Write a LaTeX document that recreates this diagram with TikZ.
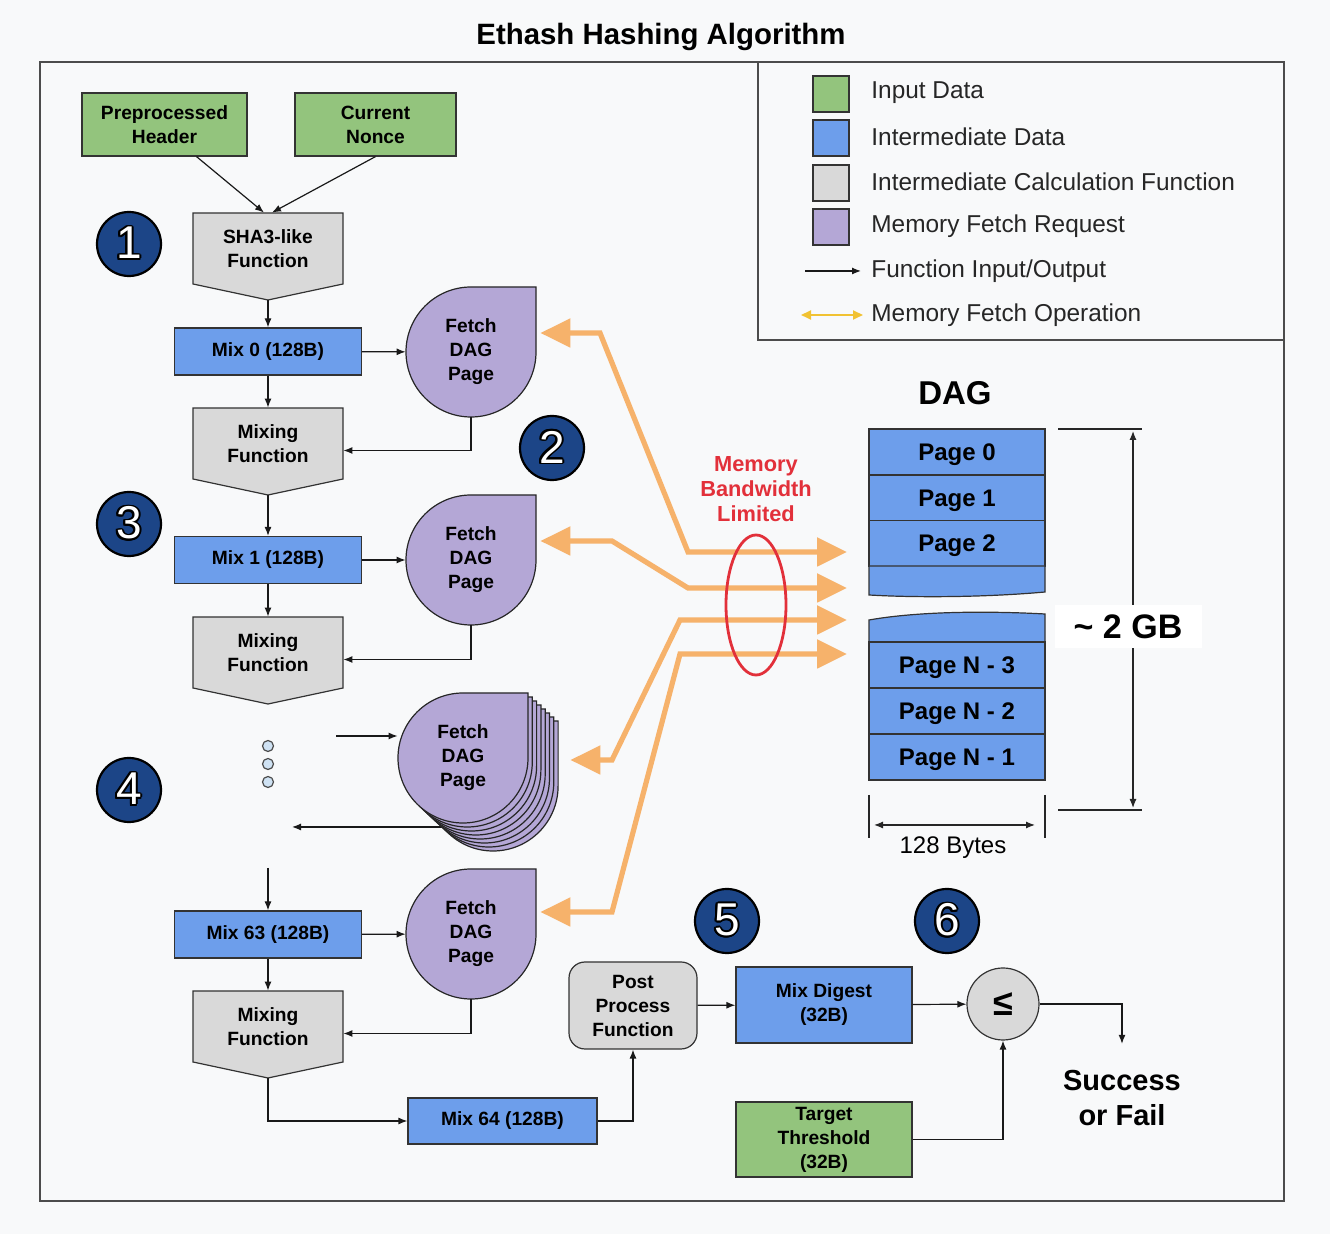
\documentclass[tikz,border=0pt]{standalone}
\usepackage{fontspec}
\setmainfont{Liberation Sans}
\usepackage[copies]{contour}
\contourlength{0.9pt}
\usetikzlibrary{arrows.meta,calc}

\definecolor{bgcol}{HTML}{F8F9FA}
\definecolor{ingreen}{HTML}{93C47D}
\definecolor{midblue}{HTML}{6D9EEB}
\definecolor{fngray}{HTML}{D9D9D9}
\definecolor{fetchpurple}{HTML}{B4A7D6}
\definecolor{memorange}{HTML}{F6B26B}
\definecolor{memyellow}{HTML}{F1C232}
\definecolor{memred}{HTML}{E2303A}
\definecolor{badgeblue}{HTML}{1C4587}
\definecolor{dotblue}{HTML}{CFE2F3}

\newcommand{\boxfont}{\fontsize{9.6}{12}\selectfont\bfseries}
\newcommand{\pagefont}{\fontsize{12}{14}\selectfont\bfseries}

% calculation step: box with a pointed bottom
\newcommand{\fnblock}[3]{%
  \filldraw[fnshape] (#2) ++(-75,-35.5) -- ++(150,0) -- ++(0,71) -- ++(-75,16) coordinate (#1-tip) -- ++(-75,-16) -- cycle;
  \node[fn] (#1) at (#2) {#3};
}
% fetch request: circle with a square top right corner
\newcommand{\fetchblock}[3]{%
  \filldraw[fetchshape] (#2) ++(65,-65) -- ++(0,65) arc[start angle=0, end angle=270, radius=65] -- cycle;
  \node[fetch] (#1) at (#2) {#3};
}

\begin{document}
\begin{tikzpicture}[x=0.5pt, y=-0.5pt,
  box/.style={draw=black!80, line width=0.6pt, align=center, inner sep=0pt, font=\boxfont},
  indata/.style={box, fill=ingreen},
  middata/.style={box, fill=midblue},
  mixbox/.style={middata, minimum width=93.5pt, minimum height=23.5pt},
  fn/.style={align=center, inner sep=0pt, minimum width=75pt, minimum height=35.5pt, font=\boxfont},
  fnshape/.style={draw=black!80, line width=0.6pt, fill=fngray},
  fetch/.style={circle, align=center, inner sep=0pt, minimum size=65pt, font=\boxfont},
  fetchshape/.style={draw=black!85, line width=0.6pt, fill=fetchpurple},
  flow/.style={draw=black!90, line width=0.6pt, -{Latex[length=4.5pt,width=3.5pt]}},
  mem/.style={draw=memorange, line width=2.6pt, {Triangle[length=15pt,width=14pt]}-{Triangle[length=15pt,width=14pt]}},
  badge/.style={circle, draw=black, line width=1.1pt, fill=badgeblue, minimum size=32pt, inner sep=0pt, text=white, font=\fontsize{23}{23}\selectfont},
  pagebox/.style={middata, minimum width=88pt, minimum height=23pt, text depth=0pt, font=\pagefont},
  pageshape/.style={draw=black!80, line width=0.6pt, fill=midblue},
  dimline/.style={draw=black!85, line width=0.6pt},
  legtext/.style={anchor=west, inner sep=0pt, font=\fontsize{12.2}{14}\selectfont, text=black!85},
  legkey/.style={draw=black!80, line width=0.8pt, minimum size=18pt, inner sep=0pt},
  ellip/.style={circle, draw=black!70, line width=0.6pt, fill=dotblue, minimum size=5.5pt, inner sep=0pt},
  framebox/.style={draw=black!70, line width=0.8pt}]

\fill[bgcol] (0,0) rectangle (1330,1234);
\useasboundingbox (0,0) rectangle (1330,1234);

\node[font=\fontsize{14.7}{16}\selectfont\bfseries] (title) at (661,37) {Ethash Hashing Algorithm};
\draw[framebox] (40,62) rectangle (1284,1201);
\draw[framebox] (758,62) rectangle (1284,340);

% legend
\node[legkey, fill=ingreen] (kin) at (831,94) {};
\node[legkey, fill=midblue] (kmid) at (831,138) {};
\node[legkey, fill=fngray] (kfn) at (831,183) {};
\node[legkey, fill=fetchpurple] (kfetch) at (831,227) {};
\node[legtext] (lin) at (871,93) {Input Data};
\node[legtext] (lmid) at (871,137) {Intermediate Data};
\node[legtext] (lfn) at (871,182) {Intermediate Calculation Function};
\node[legtext] (lfetch) at (871,226) {Memory Fetch Request};
\node[legtext] (lio) at (871,271) {Function Input/Output};
\node[legtext] (lmem) at (871,315) {Memory Fetch Operation};
\draw[flow] ([xshift=-33pt]lio.west) -- ([xshift=-5pt]lio.west);
\draw[draw=memyellow, line width=0.9pt, {Triangle[length=5pt,width=4.5pt]}-{Triangle[length=5pt,width=4.5pt]}] ([xshift=-35pt]lmem.west) -- ([xshift=-4pt]lmem.west);

% inputs and first hash
\node[indata, minimum width=82.5pt, minimum height=31.5pt] (hdr) at (164.5,124.5) {Preprocessed\\Header};
\node[indata, minimum width=80.5pt, minimum height=31.5pt] (nonce) at (375.5,124.5) {Current\\Nonce};
\fnblock{sha}{268,248.5}{SHA3-like\\Function}
\draw[flow] ($(hdr.south)+(32,0)$) -- ($(sha.north)+(-4,0)$);
\draw[flow] (nonce.south) -- ($(sha.north)+(4,0)$);

% round 0
\node[mixbox] (mix0) at (268,351.5) {Mix 0 (128B)};
\fetchblock{f1}{471,352}{Fetch\\DAG\\Page}
\fnblock{mx1}{268,443.5}{Mixing\\Function}
\draw[flow] (sha-tip) -- (mix0);
\draw[flow] (mix0) -- (f1);
\draw[flow] (mix0) -- (mx1);
\draw[flow] (f1.south) |- ($(mx1.east)+(0,7)$);

% round 1
\node[mixbox] (mix1) at (268,560) {Mix 1 (128B)};
\fetchblock{f2}{471,560}{Fetch\\DAG\\Page}
\fnblock{mx2}{268,652.5}{Mixing\\Function}
\draw[flow] (mx1-tip) -- (mix1);
\draw[flow] (mix1) -- (f2);
\draw[flow] (mix1) -- (mx2);
\draw[flow] (f2.south) |- ($(mx2.east)+(0,7)$);

% rounds 2 to 62
\foreach \yy [count=\i] in {746,764,782}
  \node[ellip] (dot\i) at (268,\yy) {};
\coordinate (dotsin) at (336,736);
\coordinate (stackout) at (452,827);
\coordinate (dotsout) at (292,827);
\draw[flow] (stackout) -- (dotsout);
\foreach \k in {7,...,1}
  \filldraw[fetchshape, shift={(\k*4.3,\k*4)}] (463,758) ++(65,-65) -- ++(0,65) arc[start angle=0, end angle=270, radius=65] -- cycle;
\fetchblock{f3}{463,758}{Fetch\\DAG\\Page}
\draw[flow] (dotsin) -- ($(f3.west)+(0,-22)$);

% round 63
\coordinate (contin) at (268,868);
\node[mixbox] (mix63) at (268,934.5) {Mix 63 (128B)};
\fetchblock{f4}{471,934}{Fetch\\DAG\\Page}
\fnblock{mx3}{268,1026.5}{Mixing\\Function}
\draw[flow] (contin) -- (mix63);
\draw[flow] (mix63) -- (f4);
\draw[flow] (mix63) -- (mx3);
\draw[flow] (f4.south) |- ($(mx3.east)+(0,7)$);

% result
\node[mixbox, minimum width=94.5pt, minimum height=23pt] (mix64) at (502.5,1121) {Mix 64 (128B)};
\node[box, fill=fngray, rounded corners=8pt, minimum width=64pt, minimum height=43.5pt] (post) at (633,1005.5) {Post\\Process\\Function};
\node[middata, minimum width=88pt, minimum height=38pt] (digest) at (824,1005) {Mix Digest\\(32B)};
\node[circle, draw=black!80, line width=0.6pt, fill=fngray, minimum size=36pt, inner sep=0pt, font=\fontsize{18}{18}\selectfont\bfseries] (le) at (1003,1004) {≤};
\node[indata, minimum width=88pt, minimum height=37.5pt] (target) at (824,1139.5) {Target\\Threshold\\(32B)};
\node[align=center, inner sep=0pt, font=\fontsize{14.5}{17.5}\selectfont\bfseries] (res) at (1122,1098) {Success\\or Fail};
\draw[flow] (mx3-tip) |- (mix64);
\draw[flow] (mix64) -| (post);
\draw[flow] (post) -- (digest);
\draw[flow] (digest) -- (le);
\draw[flow] (target) -| (le);
\draw[flow] (le) -| ([yshift=13pt]res.north);

% DAG
\node[font=\fontsize{16.5}{18}\selectfont\bfseries] (dag) at (955,393) {DAG};
\node[pagebox] (pg0) at (957,452) {Page 0};
\node[pagebox] (pg1) at (957,498) {Page 1};
\node[pagebox] (pg2) at (957,543.5) {Page 2};
\filldraw[pageshape] (869,566) -- (1045,566) -- (1045,592) .. controls (990,597) and (920,598) .. (869,595) -- cycle;
\filldraw[pageshape] (869,642) -- (869,620) .. controls (920,611) and (990,611) .. (1045,614) -- (1045,642) -- cycle;
\node[pagebox] (pgn3) at (957,665) {Page N - 3};
\node[pagebox] (pgn2) at (957,711) {Page N - 2};
\node[pagebox] (pgn1) at (957,757) {Page N - 1};

\draw[dimline] (1058,429) -- (1142,429);
\draw[dimline] (1058,810) -- (1142,810);
\draw[dimline, {Latex[length=4.5pt,width=3.5pt]}-{Latex[length=4.5pt,width=3.5pt]}] (1133,431) -- (1133,808);
\node[fill=white, minimum width=73.5pt, minimum height=21.5pt, font=\fontsize{17}{18}\selectfont\bfseries] (gb) at (1128,627) {\textasciitilde{} 2 GB};
\draw[dimline] (869,795) -- (869,838);
\draw[dimline] (1045,795) -- (1045,838);
\draw[dimline, {Latex[length=4.5pt,width=3.5pt]}-{Latex[length=4.5pt,width=3.5pt]}] (874,825) -- (1035,825);
\node[font=\fontsize{12}{14}\selectfont] (bytes) at (953,848) {128 Bytes};

% memory fetches
\coordinate (dagin1) at (847,552);
\coordinate (dagin2) at (847,588);
\coordinate (dagin3) at (847,620);
\coordinate (dagin4) at (847,654);
\draw[mem] ($(f1.east)+(4,-19)$) -- (600,333) -- (688,552) -- (dagin1);
\draw[mem] ($(f2.east)+(4,-19)$) -- (612,541) -- (688,588) -- (dagin2);
\draw[mem] ($(f3.east)+(42,2)$) -- (612,760) -- (680,620) -- (dagin3);
\draw[mem] ($(f4.east)+(4,-22)$) -- (612,912) -- (680,654) -- (dagin4);
\draw[memred, line width=1.4pt] (756,605) ellipse [x radius=30, y radius=70];
\node[text=memred, align=center, font=\fontsize{10.9}{12.5}\selectfont\bfseries] (bw) at (756,489) {Memory\\Bandwidth\\Limited};

% step numbers
\node[badge] (b1) at (129,244) {\contour{black}{1}};
\node[badge] (b2) at (552,448) {\contour{black}{2}};
\node[badge] (b3) at (129,524) {\contour{black}{3}};
\node[badge] (b4) at (129,790) {\contour{black}{4}};
\node[badge] (b5) at (727,921) {\contour{black}{5}};
\node[badge] (b6) at (947,921) {\contour{black}{6}};
\end{tikzpicture}
\end{document}
